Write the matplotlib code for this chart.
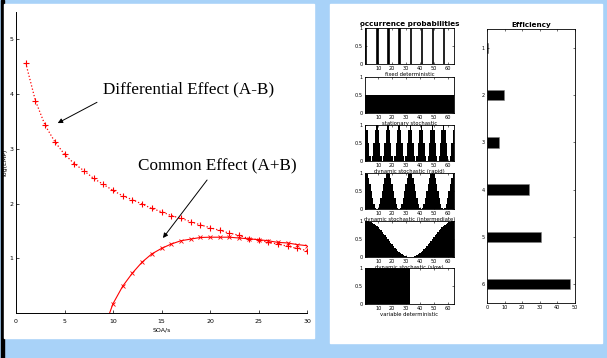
import matplotlib
matplotlib.use('Agg')
import matplotlib.pyplot as plt
import numpy as np

# ---- left panel: EMP vs SOA ----
soa = list(range(1, 31))
diff_effect = [4.57, 3.88, 3.43, 3.13, 2.90, 2.73, 2.60, 2.46, 2.35, 2.24,
               2.14, 2.07, 1.99, 1.91, 1.85, 1.78, 1.73, 1.67, 1.61, 1.56,
               1.51, 1.46, 1.42, 1.36, 1.34, 1.29, 1.26, 1.22, 1.18, 1.14]
soa_common = list(range(9, 31))
common_effect = [-0.32, 0.17, 0.49, 0.73, 0.93, 1.08, 1.18, 1.26, 1.32, 1.35,
                 1.38, 1.385, 1.385, 1.385, 1.37, 1.355, 1.34, 1.32, 1.29, 1.28,
                 1.25, 1.23]

# ---- right panel: occurrence probabilities over 64 trials ----
trials = list(range(1, 65))
fixed_det = [1, 0, 0, 0, 0, 0, 0, 0,
             1, 0, 0, 0, 0, 0, 0, 0,
             1, 0, 0, 0, 0, 0, 0, 0,
             1, 0, 0, 0, 0, 0, 0, 0,
             1, 0, 0, 0, 0, 0, 0, 0,
             1, 0, 0, 0, 0, 0, 0, 0,
             1, 0, 0, 0, 0, 0, 0, 0,
             1, 0, 0, 0, 0, 0, 0, 0]
stationary = [0.5] * 64
rapid = [1, 0.85, 0.5, 0.15, 0, 0.15, 0.5, 0.85,
         1, 0.85, 0.5, 0.15, 0, 0.15, 0.5, 0.85,
         1, 0.85, 0.5, 0.15, 0, 0.15, 0.5, 0.85,
         1, 0.85, 0.5, 0.15, 0, 0.15, 0.5, 0.85,
         1, 0.85, 0.5, 0.15, 0, 0.15, 0.5, 0.85,
         1, 0.85, 0.5, 0.15, 0, 0.15, 0.5, 0.85,
         1, 0.85, 0.5, 0.15, 0, 0.15, 0.5, 0.85,
         1, 0.85, 0.5, 0.15, 0, 0.15, 0.5, 0.85]
intermediate = [1, 0.96, 0.85, 0.69, 0.5, 0.31, 0.15, 0.04, 0, 0.04, 0.15, 0.31, 0.5, 0.69, 0.85, 0.96,
                1, 0.96, 0.85, 0.69, 0.5, 0.31, 0.15, 0.04, 0, 0.04, 0.15, 0.31, 0.5, 0.69, 0.85, 0.96,
                1, 0.96, 0.85, 0.69, 0.5, 0.31, 0.15, 0.04, 0, 0.04, 0.15, 0.31, 0.5, 0.69, 0.85, 0.96,
                1, 0.96, 0.85, 0.69, 0.5, 0.31, 0.15, 0.04, 0, 0.04, 0.15, 0.31, 0.5, 0.69, 0.85, 0.96]
slow = [1.0, 1.0, 0.99, 0.98, 0.96, 0.94, 0.92, 0.89, 0.85, 0.82, 0.78, 0.74, 0.69, 0.65, 0.6, 0.55,
        0.5, 0.45, 0.4, 0.36, 0.31, 0.26, 0.22, 0.18, 0.15, 0.11, 0.08, 0.06, 0.04, 0.02, 0.01, 0.0,
        0.0, 0.0, 0.01, 0.02, 0.04, 0.06, 0.08, 0.11, 0.15, 0.18, 0.22, 0.26, 0.31, 0.36, 0.4, 0.45,
        0.5, 0.55, 0.6, 0.65, 0.69, 0.74, 0.78, 0.82, 0.85, 0.89, 0.92, 0.94, 0.96, 0.98, 0.99, 1.0]
variable_det = [1] * 32 + [0] * 32

designs = [fixed_det, stationary, rapid, intermediate, slow, variable_det]
design_names = ['fixed deterministic', 'stationary stochastic',
                'dynamic stochastic (rapid)', 'dynamic stochastic (intermediate)',
                'dynamic stochastic (slow)', 'variable deterministic']

design_idx = [1, 2, 3, 4, 5, 6]
efficiency = [0.5, 9.8, 7.1, 23.9, 30.4, 47.1]

W, H = 607, 358
fig = plt.figure(figsize=(W / 100, H / 100), dpi=100)
fig.patch.set_facecolor('#a8d2f8')


def box(x0, y0, x1, y1, color):
    # rectangle in pixel coords (top-left origin)
    fig.patches.append(plt.Rectangle((x0 / W, 1 - y1 / H), (x1 - x0) / W, (y1 - y0) / H,
                                     transform=fig.transFigure, color=color, zorder=-10))


def axes_px(x0, y0, x1, y1):
    a = fig.add_axes([x0 / W, 1 - y1 / H, (x1 - x0) / W, (y1 - y0) / H])
    a.set_zorder(5)
    return a


box(1, 0, 4, 358, 'black')
box(4, 4, 314, 338, 'white')
box(330, 4, 602, 343, 'white')

# left plot
ax = axes_px(16, 12, 307, 313)
ax.patch.set_alpha(0)
ax.plot(soa, diff_effect, color='red', ls=':', lw=0.9, marker='+', ms=5, mew=0.8)
ax.plot(soa_common, common_effect, color='red', ls='-', lw=0.8, marker='x', ms=3, mew=0.6)
ax.set_xlim(0, 30)
ax.set_ylim(0, 5.5)
ax.set_xticks([0, 5, 10, 15, 20, 25, 30])
ax.set_yticks([1, 2, 3, 4, 5])
ax.spines['top'].set_visible(False)
ax.spines['right'].set_visible(False)
ax.spines['left'].set_linewidth(0.7)
ax.spines['bottom'].set_linewidth(0.7)
ax.tick_params(direction='in', length=2, width=0.5, labelsize=4.5)
ax.tick_params(axis='x', pad=4)
ax.tick_params(axis='y', pad=2)
ax.set_xlabel('SOA/s', fontsize=4.5, labelpad=2.5)
ax.set_ylabel('log(EMP)', fontsize=4.5, labelpad=1)

serif = ['Liberation Serif', 'DejaVu Serif']
ax.text(8.97, 4.01, 'Differential Effect (A-B)', fontsize=12.3, family=serif, va='baseline')
ax.text(12.58, 2.61, 'Common Effect (A+B)', fontsize=12.3, family=serif, va='baseline')
arrow = dict(arrowstyle='-|>', color='black', lw=0.7, mutation_scale=7, shrinkA=0, shrinkB=0)
ax.annotate('', xy=(4.3, 3.47), xytext=(8.35, 3.85), arrowprops=arrow)
ax.annotate('', xy=(15.15, 1.37), xytext=(19.7, 2.43), arrowprops=arrow)

# occurrence probabilities column
tops = [28, 77, 125, 173, 221, 268]
bin_edges = [t - 0.5 for t in trials] + [trials[-1] + 0.5]
for i, (vals, name) in enumerate(zip(designs, design_names)):
    a = axes_px(365, tops[i], 454, tops[i] + 36)
    if i == 0:
        # isolated spikes: give them an outline so they stay visible
        a.bar(trials, vals, width=1.0, color='black', edgecolor='black', linewidth=0.5)
    else:
        a.stairs(vals, bin_edges, fill=True, color='black', linewidth=0)
    a.set_xlim(0.5, 64.5)
    a.set_ylim(0, 1)
    a.set_xticks([10, 20, 30, 40, 50, 60])
    a.set_yticks([0, 0.5, 1])
    a.set_yticklabels(['0', '0.5', '1'])
    a.tick_params(direction='in', length=1.5, width=0.4, labelsize=3.6, pad=1.5,
                  top=True, right=True)
    for s in a.spines.values():
        s.set_linewidth(0.6)
    a.set_xlabel(name, fontsize=3.8, labelpad=0.5)
    if i == 0:
        a.set_title('occurrence probabilities', fontsize=5.2, fontweight='bold', pad=1.5)

# efficiency bars
e = axes_px(487, 29, 575, 303)
e.barh(design_idx, efficiency, height=0.22, color='black', edgecolor='#808080', linewidth=0.4)
e.set_xlim(0, 50)
e.set_ylim(6.4, 0.6)
e.set_xticks([0, 10, 20, 30, 40, 50])
e.set_yticks(design_idx)
e.tick_params(direction='in', length=1.5, width=0.4, labelsize=3.6, pad=1.5,
              top=True, right=True)
for s in e.spines.values():
    s.set_linewidth(0.6)
e.set_title('Efficiency', fontsize=5.2, fontweight='bold', pad=1.5)

fig.savefig('out.png', dpi=100, facecolor=fig.get_facecolor())
